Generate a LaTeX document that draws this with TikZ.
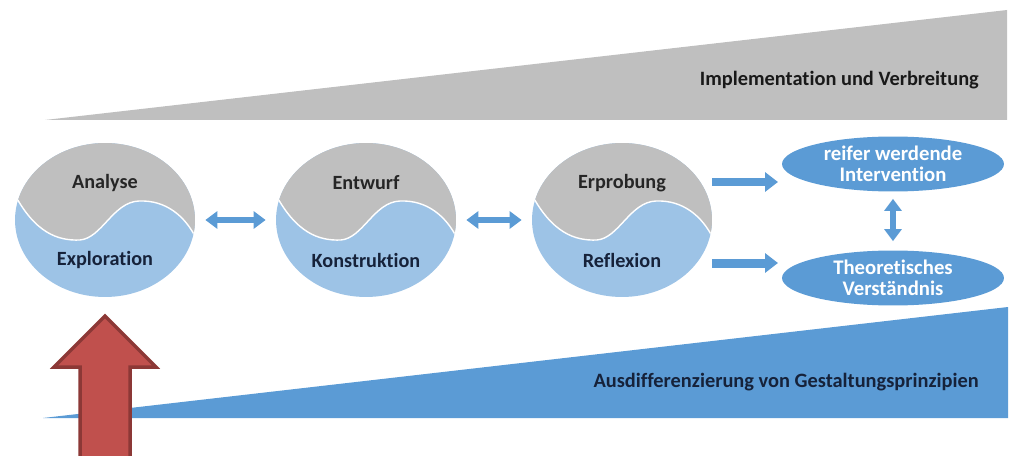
\documentclass[tikz,border=0pt]{standalone}
\usepackage{fontspec}
\setmainfont{Carlito}[Ligatures=NoCommon]
\usepackage{tikz}
\usetikzlibrary{arrows.meta,positioning,shapes.geometric,calc}

\definecolor{greyfill}{RGB}{191,191,191}
\definecolor{paleblue}{RGB}{157,195,230}
\definecolor{midblue}{RGB}{91,155,213}
\definecolor{inkblue}{RGB}{22,34,58}
\definecolor{brickred}{RGB}{192,80,77}
\definecolor{darkbrick}{RGB}{140,56,54}

\tikzset{
  phase/.style={ellipse, minimum width=3.6cm, minimum height=3.08cm, inner sep=0pt, fill=paleblue,
    path picture={
      \begin{scope}[shift={(path picture bounding box.center)}]
        \fill[greyfill, draw=white, line width=0.8pt]
          (-110,25) -- (-90,25) .. controls (-70,-12) and (-48,-21) .. (-25,-20)
          .. controls (-3,-18) and (8,18) .. (34,19)
          .. controls (60,20) and (80,5) .. (92,-20) -- (110,-20) -- (110,110) -- (-110,110) -- cycle;
      \end{scope}}},
  phasetext/.style={font=\bfseries\fontsize{11.5}{13}\selectfont},
  bandtext/.style={font=\bfseries\fontsize{11.6}{14}\selectfont, anchor=east},
  outcome/.style={ellipse, fill=midblue, minimum width=4.44cm, minimum height=1.1cm, inner sep=0pt,
    text=white, align=center, font=\bfseries\fontsize{11.8}{12}\selectfont},
  dblarrow/.style={midblue, line width=0.13cm, shorten <=0.2cm, shorten >=0.2cm,
    {Triangle[width=0.34cm,length=0.24cm]}-{Triangle[width=0.34cm,length=0.24cm]}},
  fatarrow/.style={midblue, line width=0.18cm, -{Triangle[width=0.38cm,length=0.26cm]}},
}

\begin{document}
\begin{tikzpicture}[x=0.02cm, y=0.02cm]
\useasboundingbox (0,0) rectangle (1011,-456);
% growing bands
\fill[greyfill] (45,-120) -- (1007,-10) -- (1007,-120) -- cycle;
\fill[midblue] (43,-418) -- (1008,-307) -- (1008,-418) -- cycle;
\node[bandtext, text=black!90] (impl) at (985,-80) {Implementation und Verbreitung};
\node[bandtext, text=inkblue] (ausd) at (985,-382) {Ausdifferenzierung von Gestaltungsprinzipien};

% the three phases
\node[phase] (c1) at (105,-220) {};
\node[phase] (c2) at (366,-220) {};
\node[phase] (c3) at (622,-220) {};
\foreach \c/\top/\bot in {c1/Analyse/Exploration, c2/Entwurf/Konstruktion, c3/Erprobung/Reflexion}{
  \node[phasetext, text=black!85] (\c-top) at ([yshift=0.74cm]\c.center) {\top};
  \node[phasetext, text=inkblue] (\c-bot) at ([yshift=-0.8cm]\c.center) {\bot};
}
\draw[dblarrow] (c1.east) -- (c2.west);
\draw[dblarrow] (c2.east) -- (c3.west);

% outcomes
\node[outcome] (int) at (893,-164) {reifer werdende\\Intervention};
\node[outcome] (the) at (893,-278) {Theoretisches\\Verständnis};
\coordinate (in1) at (778,-182);
\coordinate (in2) at (778,-263);
\draw[fatarrow] (c3.east |- in1) -- (in1);
\draw[fatarrow] (c3.east |- in2) -- (in2);
\draw[dblarrow, shorten <=0.14cm, shorten >=0.18cm] (int.south) -- (the.north);

% entry arrow
\draw[fill=brickred, draw=darkbrick, line width=0.07cm] (105,-316) -- (156,-367) -- (130,-367)
  -- (130,-470) -- (80,-470) -- (80,-367) -- (54,-367) -- cycle;
\end{tikzpicture}
\end{document}
